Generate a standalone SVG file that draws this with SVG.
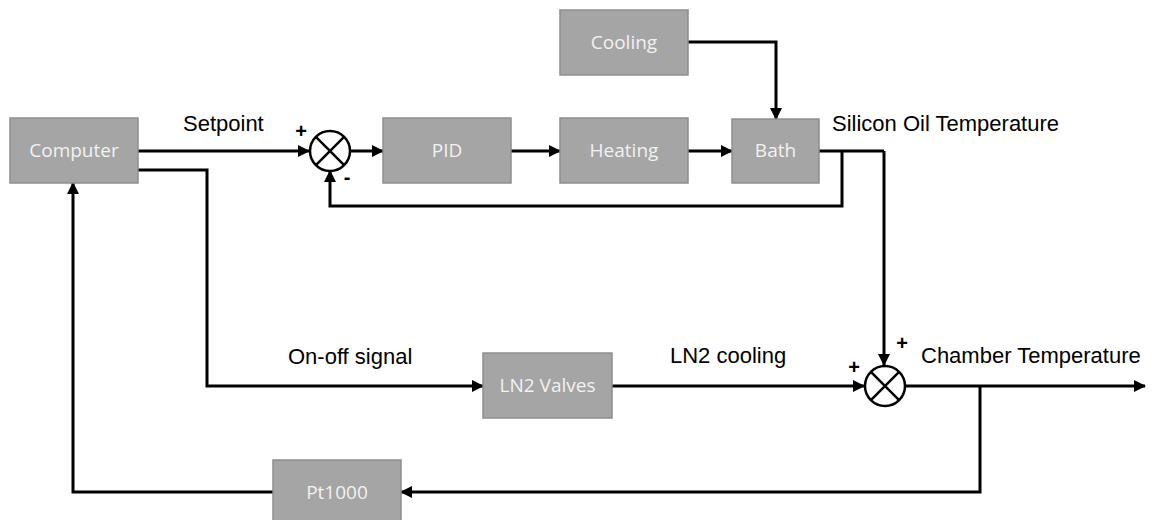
<svg xmlns="http://www.w3.org/2000/svg" width="1152" height="520" viewBox="0 0 1152 520">
<style>
.box{fill:#a5a5a5;stroke:#8e8e8e;stroke-width:1.5}
.bl{font-family:"Open Sans","Liberation Sans",sans-serif;font-size:19px;fill:#f2f2f2;text-anchor:middle}
.lbl{font-family:"Liberation Sans",Arial,sans-serif;font-size:22px;fill:#000}
.sgn{font-family:"Liberation Sans",Arial,sans-serif;font-size:20px;font-weight:bold;fill:#000;text-anchor:middle}
.w{fill:none;stroke:#000;stroke-width:3}
.a{marker-end:url(#ah)}
.sum{fill:#fff;stroke:#000;stroke-width:2.5}
</style>
<defs>
<marker id="ah" markerUnits="userSpaceOnUse" markerWidth="12" markerHeight="12" refX="11" refY="6" orient="auto">
<path d="M0,0 L12,6 L0,12 z" fill="#000"/>
</marker>
</defs>
<g id="connectors">
<path class="w a" d="M138,151 H309"/>
<path class="w a" d="M350,151 H383"/>
<path class="w a" d="M511,151 H560"/>
<path class="w a" d="M688,151 H732"/>
<path class="w a" d="M688,42 H776 V119"/>
<path class="w" d="M819,151 H884"/>
<path class="w a" d="M842,151 V206 H330 V171"/>
<path class="w a" d="M884,151 V365"/>
<path class="w a" d="M138,170 H207 V386 H483"/>
<path class="w a" d="M612,386 H864"/>
<path class="w a" d="M905,386 H1145"/>
<path class="w a" d="M980,386 V492 H401"/>
<path class="w a" d="M273,492 H73 V183"/>
</g>
<g id="sum1">
<circle class="sum" cx="330" cy="151" r="20"/>
<path class="w" style="stroke-width:2.5" d="M315.9,136.9 L344.1,165.1 M344.1,136.9 L315.9,165.1"/>
<text class="sgn" x="301" y="138">+</text>
<text class="sgn" x="347" y="184">-</text>
</g>
<g id="sum2">
<circle class="sum" cx="885" cy="386" r="20"/>
<path class="w" style="stroke-width:2.5" d="M870.9,371.9 L899.1,400.1 M899.1,371.9 L870.9,400.1"/>
<text class="sgn" x="902" y="350">+</text>
<text class="sgn" x="854" y="374">+</text>
</g>
<g id="computer"><rect class="box" x="10" y="118" width="128" height="65"/><text class="bl" x="74" y="157">Computer</text></g>
<g id="pid"><rect class="box" x="383" y="118" width="128" height="65"/><text class="bl" x="447" y="157">PID</text></g>
<g id="heating"><rect class="box" x="560" y="118" width="128" height="65"/><text class="bl" x="624" y="157">Heating</text></g>
<g id="cooling"><rect class="box" x="560" y="10" width="128" height="65"/><text class="bl" x="624" y="49">Cooling</text></g>
<g id="bath"><rect class="box" x="732" y="119" width="87" height="64"/><text class="bl" x="775.5" y="157">Bath</text></g>
<g id="ln2valves"><rect class="box" x="483" y="353" width="129" height="65"/><text class="bl" x="547.5" y="392">LN2 Valves</text></g>
<g id="pt1000"><rect class="box" x="273" y="460" width="128" height="65"/><text class="bl" x="337" y="499">Pt1000</text></g>
<g id="labels">
<text class="lbl" x="183" y="131">Setpoint</text>
<text class="lbl" x="832" y="131">Silicon Oil Temperature</text>
<text class="lbl" x="288" y="364">On-off signal</text>
<text class="lbl" x="670" y="363">LN2 cooling</text>
<text class="lbl" x="921" y="363">Chamber Temperature</text>
</g>
</svg>
